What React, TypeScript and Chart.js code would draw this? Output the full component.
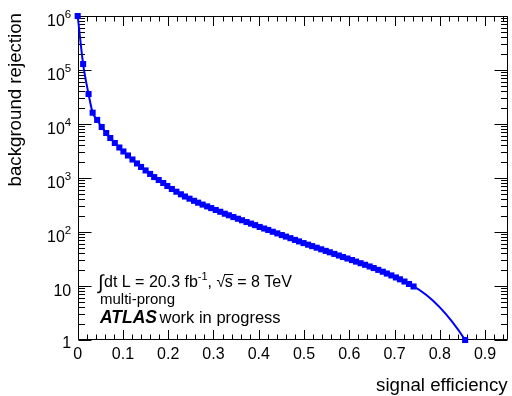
import React, { useEffect, useRef } from "react";
import { Chart, registerables } from "chart.js";

Chart.register(...registerables);

// ---- data ----
const efficiency = [
  0, 0.012, 0.024, 0.033, 0.043, 0.053, 0.063, 0.072, 0.082, 0.092,
  0.101, 0.111, 0.121, 0.131, 0.140, 0.150, 0.160, 0.169, 0.179, 0.189,
  0.198, 0.208, 0.218, 0.228, 0.237, 0.247, 0.257, 0.266, 0.276, 0.286,
  0.295, 0.305, 0.315, 0.325, 0.334, 0.344, 0.354, 0.363, 0.373, 0.383,
  0.392, 0.402, 0.412, 0.421, 0.431, 0.441, 0.451, 0.460, 0.470, 0.480,
  0.489, 0.499, 0.509, 0.518, 0.528, 0.538, 0.548, 0.557, 0.567, 0.577,
  0.586, 0.596, 0.606, 0.615, 0.625, 0.635, 0.645, 0.654, 0.664, 0.674,
  0.683, 0.693, 0.703, 0.712, 0.722, 0.732, 0.742, 0.856,
];
const rejection = [
  1000000, 129000, 35900, 16200, 11900, 8800, 6810, 5500, 4450, 3670,
  3100, 2610, 2200, 1860, 1600, 1380, 1190, 1040, 918, 808,
  711, 626, 557, 499, 454, 414, 378, 349, 322, 298,
  277, 256, 237, 218, 204, 189, 176, 165, 153, 143,
  134, 124, 116, 109, 101, 94.2, 87.7, 82.2, 76.8, 71.4,
  67.0, 62.3, 58.2, 54.8, 51.2, 47.8, 44.7, 42.1, 39.3, 36.7,
  34.4, 32.3, 30.2, 28.3, 26.4, 24.7, 23.0, 21.5, 19.9, 18.4,
  17.0, 15.7, 14.4, 13.3, 12.1, 10.9, 9.8, 1,
];
const xTickValues = [0, 0.1, 0.2, 0.3, 0.4, 0.5, 0.6, 0.7, 0.8, 0.9];
const xTickLabels = ["0", "0.1", "0.2", "0.3", "0.4", "0.5", "0.6", "0.7", "0.8", "0.9"];
const yDecades = [1, 10, 100, 1000, 10000, 100000, 1000000];
const yDecadeExponents = [0, 1, 2, 3, 4, 5, 6];
const xRange = [0, 0.95];
const yRange = [1, 1000000];
const xAxisTitle = "signal efficiency";
const yAxisTitle = "background rejection";
const lumiText = "dt L = 20.3 fb";
const lumiUnitExp = "-1";
const energyText = " = 8 TeV";
const channelText = "multi-prong";
const atlasText = "ATLAS";
const statusText = "work in progress";

const FONT = '"Liberation Sans", Arial, Helvetica, sans-serif';
const BLUE = "#0000ff";

const rootPlugin = {
  id: "rootStyle",
  beforeDatasetsDraw(chart: any) {
    const { ctx, chartArea } = chart;
    const { left, right, top, bottom } = chartArea;
    const xs = chart.scales.x;
    const ys = chart.scales.y;
    ctx.save();
    ctx.strokeStyle = "#000";
    ctx.lineWidth = 1;
    const L = Math.round(left) + 0.5;
    const R = Math.round(right) - 0.5;
    const T = Math.round(top) + 0.5;
    const B = Math.round(bottom) - 0.5;
    ctx.beginPath();
    ctx.rect(L, T, R - L, B - T);
    ctx.stroke();

    // x ticks (bottom & top), minor every 0.02
    ctx.beginPath();
    for (let i = 0; i * 0.02 <= xRange[1] + 1e-9; i++) {
      const v = i * 0.02;
      const px = Math.round(xs.getPixelForValue(v)) + 0.5;
      const len = i % 5 === 0 ? 9.5 : 5;
      ctx.moveTo(px, B);
      ctx.lineTo(px, B - len);
      ctx.moveTo(px, T);
      ctx.lineTo(px, T + len);
    }
    // y ticks (left & right)
    for (let d = 0; d <= 6; d++) {
      for (let m = 1; m <= 9; m++) {
        const v = m * Math.pow(10, d);
        if (v > yRange[1] * 1.0001) break;
        const py = Math.round(ys.getPixelForValue(v)) + 0.5;
        const len = m === 1 ? 13 : 6.5;
        ctx.moveTo(L, py);
        ctx.lineTo(L + len, py);
        ctx.moveTo(R, py);
        ctx.lineTo(R - len, py);
      }
    }
    ctx.stroke();

    // x tick labels
    ctx.fillStyle = "#000";
    ctx.font = `16px ${FONT}`;
    ctx.textAlign = "center";
    ctx.textBaseline = "alphabetic";
    xTickValues.forEach((v, i) => {
      ctx.fillText(xTickLabels[i], xs.getPixelForValue(v), bottom + 19);
    });

    // y tick labels
    const rightEdge = left - 6.5;
    yDecades.forEach((v, i) => {
      const py = ys.getPixelForValue(v);
      const e = yDecadeExponents[i];
      ctx.textAlign = "right";
      if (e === 0) {
        ctx.font = `16px ${FONT}`;
        ctx.fillText("1", rightEdge, py + 8);
      } else if (e === 1) {
        ctx.font = `16px ${FONT}`;
        ctx.fillText("10", rightEdge, py + 10);
      } else {
        ctx.font = `11.5px ${FONT}`;
        const expStr = String(e);
        const w = ctx.measureText(expStr).width;
        ctx.fillText(expStr, rightEdge, py + 2);
        ctx.font = `16px ${FONT}`;
        ctx.fillText("10", rightEdge - w, py + 10);
      }
    });

    // axis titles
    ctx.font = `18.7px ${FONT}`;
    ctx.textAlign = "right";
    ctx.fillText(xAxisTitle, right, 391.3);
    ctx.save();
    ctx.translate(21, top - 3);
    ctx.rotate(-Math.PI / 2);
    ctx.fillText(yAxisTitle, 0, 0);
    ctx.restore();

    // annotation texts
    ctx.textAlign = "left";
    let x = 98;
    const base1 = 286.5;
    ctx.font = `20px ${FONT}`;
    ctx.fillText("\u222B", x, base1 + 2);
    x += ctx.measureText("\u222B").width + 0.5;
    ctx.font = `16px ${FONT}`;
    ctx.fillText(lumiText, x, base1);
    x += ctx.measureText(lumiText).width;
    ctx.font = `11px ${FONT}`;
    ctx.fillText(lumiUnitExp, x, base1 - 6.5);
    x += ctx.measureText(lumiUnitExp).width;
    ctx.font = `16px ${FONT}`;
    ctx.fillText(", ", x, base1);
    x += ctx.measureText(", ").width;
    ctx.fillText("\u221A", x, base1);
    const sqrtW = ctx.measureText("\u221A").width;
    const sx = x + sqrtW - 0.5;
    ctx.fillText("s", sx, base1);
    const sW = ctx.measureText("s").width;
    ctx.beginPath();
    ctx.lineWidth = 1;
    ctx.moveTo(sx - 0.5, base1 - 12);
    ctx.lineTo(sx + sW + 0.5, base1 - 12);
    ctx.stroke();
    x = sx + sW;
    ctx.fillText(energyText, x, base1);

    ctx.font = `15px ${FONT}`;
    ctx.fillText(channelText, 100, 303.5);

    ctx.font = `italic bold 17.5px ${FONT}`;
    ctx.fillText(atlasText, 100, 323.3);
    const aw = ctx.measureText(atlasText).width;
    ctx.font = `16.5px ${FONT}`;
    ctx.fillText(statusText, 100 + aw + 2.5, 323.3);
    ctx.restore();

    // smooth tail between the last two points (ROOT-like curve)
    try {
      const meta = chart.getDatasetMeta(0);
      meta.dataset.updateControlPoints(chartArea, "x");
      const pts = meta.data;
      const n = pts.length;
      const p = pts[n - 3], a = pts[n - 2], b = pts[n - 1];
      const dx = b.x - a.x;
      const s0 = (a.y - p.y) / (a.x - p.x);
      const chord = (b.y - a.y) / dx;
      const s1 = 2 * chord - s0;
      a.cp2x = a.x + dx / 3;
      a.cp2y = a.y + (s0 * dx) / 3;
      b.cp1x = b.x - dx / 3;
      b.cp1y = b.y - (s1 * dx) / 3;
    } catch (e) {
      // ignore
    }
  },
};

export default function App() {
  const canvasRef = useRef<HTMLCanvasElement | null>(null);

  useEffect(() => {
    const canvas = canvasRef.current;
    if (!canvas) return;
    const points = efficiency.map((x, i) => ({ x, y: rejection[i] }));
    const chart = new Chart(canvas, {
      type: "line",
      data: {
        datasets: [
          {
            data: points,
            borderColor: BLUE,
            backgroundColor: BLUE,
            borderWidth: 2,
            pointStyle: "rect",
            pointRadius: 4.3,
            pointBorderWidth: 0,
            pointBackgroundColor: BLUE,
            cubicInterpolationMode: "monotone",
            clip: false,
            fill: false,
          } as any,
        ],
      },
      options: {
        responsive: false,
        animation: false,
        events: [],
        layout: { padding: { left: 77.7, right: 1.5, top: 16, bottom: 56 } },
        scales: {
          x: { type: "linear", min: xRange[0], max: xRange[1], display: false },
          y: { type: "logarithmic", min: yRange[0], max: yRange[1], display: false },
        },
        plugins: { legend: { display: false }, tooltip: { enabled: false } },
      },
      plugins: [rootPlugin],
    });
    return () => chart.destroy();
  }, []);

  return (
    <div style={{ position: "absolute", left: 0, top: 0, width: 512, height: 396, background: "#fff" }}>
      <canvas ref={canvasRef} width={512} height={396} style={{ display: "block" }} />
    </div>
  );
}
